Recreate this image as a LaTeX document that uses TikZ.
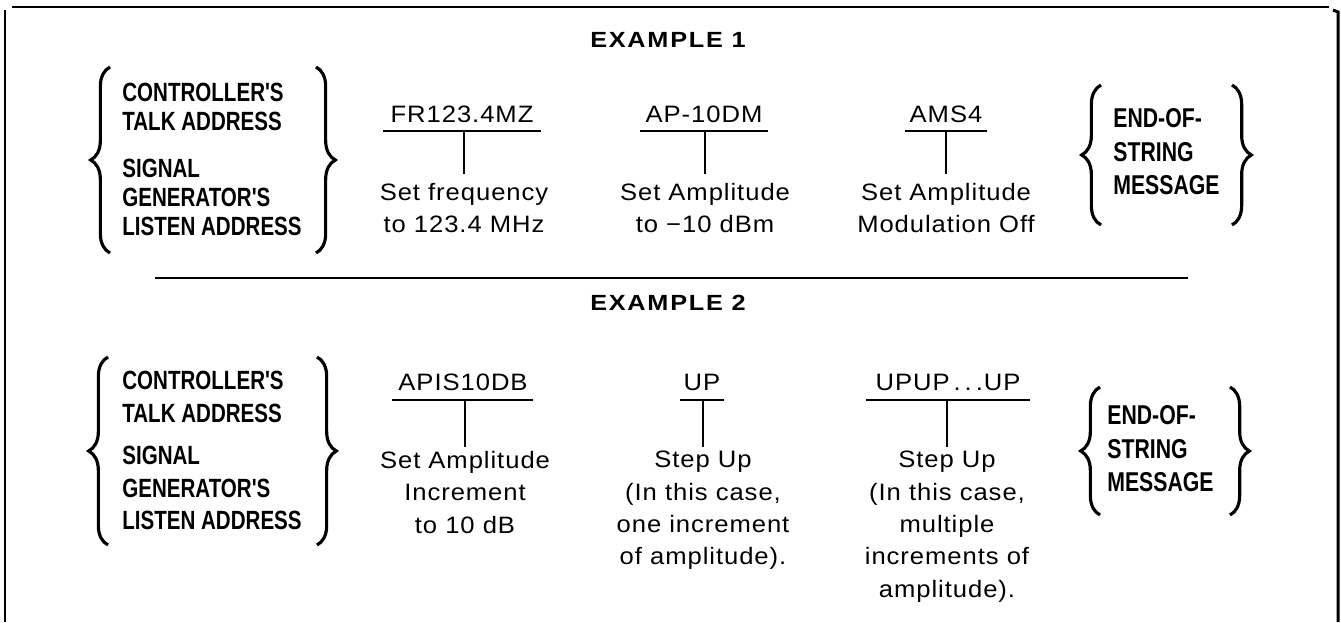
\documentclass[tikz,border=0pt]{standalone}
\usepackage{fontspec}
\setmainfont{Liberation Sans}[FakeStretch=1.08,LetterSpace=4]
\newfontfamily\condfont{Liberation Sans Bold}[FakeStretch=0.78]
\newfontfamily\titlefont{Liberation Sans Bold}[FakeStretch=1.15,LetterSpace=8]
\usetikzlibrary{decorations.pathreplacing}
\tikzset{
  condA/.style={font=\condfont\fontsize{15}{16.5}\selectfont, align=left, inner sep=0, anchor=north west},
  condB/.style={font=\condfont\fontsize{15}{18.4}\selectfont, align=left, inner sep=0, anchor=north west},
  condE/.style={font=\condfont\fontsize{15.5}{19}\selectfont, align=left, inner sep=0, anchor=north west},
  desc/.style={font=\fontsize{13.5}{18.4}\selectfont, align=center, inner sep=0, anchor=north},
  code/.style={font=\fontsize{13.5}{16}\selectfont, inner sep=0, anchor=base},
  ttl/.style={font=\titlefont\fontsize{12.5}{15}\selectfont, inner sep=0, anchor=base},
  bracedec/.style={decorate, decoration={brace, amplitude=11pt}, line width=1.8pt},
  uline/.style={line width=1.2pt},
  stemA/.style={line width=1.4pt, shorten >=5pt},
  stemB/.style={line width=1.4pt, shorten >=2.2pt},
  framel/.style={line width=1.7pt},
  sepl/.style={line width=1.2pt}
}
\begin{document}
\begin{tikzpicture}[x=0.02cm,y=-0.02cm]
\useasboundingbox (0,0) rectangle (1341,622);
% frame
\coordinate (ft1) at (12,7); \coordinate (ft2) at (1329,7);
\coordinate (fl1) at (5,10); \coordinate (fl2) at (5,622);
\coordinate (fr0) at (1333,10); \coordinate (fr1) at (1338,12); \coordinate (fr2) at (1338,622);
\draw[framel] (ft1) -- (ft2);
\draw[framel] (fl1) -- (fl2);
\draw[framel] (fr0) -- (fr1) -- (fr2);
% titles
\node[ttl] (t1) at (668,47) {EXAMPLE 1};
\node[ttl] (t2) at (668,310) {EXAMPLE 2};
% separator
\coordinate (sp1) at (155,278); \coordinate (sp2) at (1188,278);
\draw[sepl] (sp1) -- (sp2);

% ===== Example 1 =====
\node[condA] (l11) at (122,83.1) {CONTROLLER'S\\TALK ADDRESS};
\node[condA] (l12) at (122,159.1) {SIGNAL\\GENERATOR'S\\LISTEN ADDRESS};
\coordinate (b1la) at (110,253); \coordinate (b1lb) at (110,67);
\coordinate (b1ra) at (316,67); \coordinate (b1rb) at (316,253);
\draw[bracedec] (b1la) -- (b1lb);
\draw[bracedec] (b1ra) -- (b1rb);

\node[code] (c11) at (462,122) {FR123.4MZ};
\node[code] (c12) at (704,122) {AP-10DM};
\node[code] (c13) at (946,122) {AMS4};
\coordinate (u11a) at (383,131); \coordinate (u11b) at (541,131);
\coordinate (u12a) at (640,131); \coordinate (u12b) at (768,131);
\coordinate (u13a) at (905,131); \coordinate (u13b) at (987,131);
\draw[uline] (u11a) -- (u11b);
\draw[uline] (u12a) -- (u12b);
\draw[uline] (u13a) -- (u13b);
\coordinate (s11) at (464,131); \coordinate (s12) at (705,131); \coordinate (s13) at (946,131);
\node[desc] (d11) at (464,182.8) {Set frequency\\to 123.4 MHz};
\node[desc] (d12) at (705,182.8) {Set Amplitude\\to −10 dBm};
\node[desc] (d13) at (946,182.8) {Set Amplitude\\Modulation Off};
\draw[stemA] (s11) -- (d11.north);
\draw[stemA] (s12) -- (d12.north);
\draw[stemA] (s13) -- (d13.north);

\node[condE] (e1) at (1113,108.4) {END-OF-\\STRING\\MESSAGE};
\coordinate (b1ea) at (1101,225); \coordinate (b1eb) at (1101,85);
\coordinate (b1fa) at (1232,85); \coordinate (b1fb) at (1232,225);
\draw[bracedec] (b1ea) -- (b1eb);
\draw[bracedec] (b1fa) -- (b1fb);

% ===== Example 2 =====
\node[condB] (l21) at (122,371.1) {CONTROLLER'S\\TALK ADDRESS};
\node[condB] (l22) at (122,446.1) {SIGNAL\\GENERATOR'S\\LISTEN ADDRESS};
\coordinate (b2la) at (108,545); \coordinate (b2lb) at (108,357);
\coordinate (b2ra) at (317,357); \coordinate (b2rb) at (317,545);
\draw[bracedec] (b2la) -- (b2lb);
\draw[bracedec] (b2ra) -- (b2rb);

\node[code] (c21) at (463,390) {APIS10DB};
\node[code] (c22) at (702,390) {UP};
\node[code] (c23) at (948,390) {UPUP\,.\,.\,.UP};
\coordinate (u21a) at (392,400); \coordinate (u21b) at (533,400);
\coordinate (u22a) at (680,400); \coordinate (u22b) at (724,400);
\coordinate (u23a) at (866,400); \coordinate (u23b) at (1030,400);
\draw[uline] (u21a) -- (u21b);
\draw[uline] (u22a) -- (u22b);
\draw[uline] (u23a) -- (u23b);
\coordinate (s21) at (465,400); \coordinate (s22) at (703,400); \coordinate (s23) at (947,400);
\node[desc] (d21) at (465,450.8) {Set Amplitude\\Increment\\to 10 dB};
\node[desc] (d22) at (703,450.8) {Step Up\\(In this case,\\one increment\\of amplitude).};
\node[desc] (d23) at (947,450.8) {Step Up\\(In this case,\\multiple\\increments of\\amplitude).};
\draw[stemB] (s21) -- (d21.north);
\draw[stemB] (s22) -- (d22.north);
\draw[stemB] (s23) -- (d23.north);

\node[condE] (e2) at (1107,405.4) {END-OF-\\STRING\\MESSAGE};
\coordinate (b2ea) at (1100,515); \coordinate (b2eb) at (1100,387);
\coordinate (b2fa) at (1230,387); \coordinate (b2fb) at (1230,515);
\draw[bracedec] (b2ea) -- (b2eb);
\draw[bracedec] (b2fa) -- (b2fb);
\end{tikzpicture}
\end{document}
